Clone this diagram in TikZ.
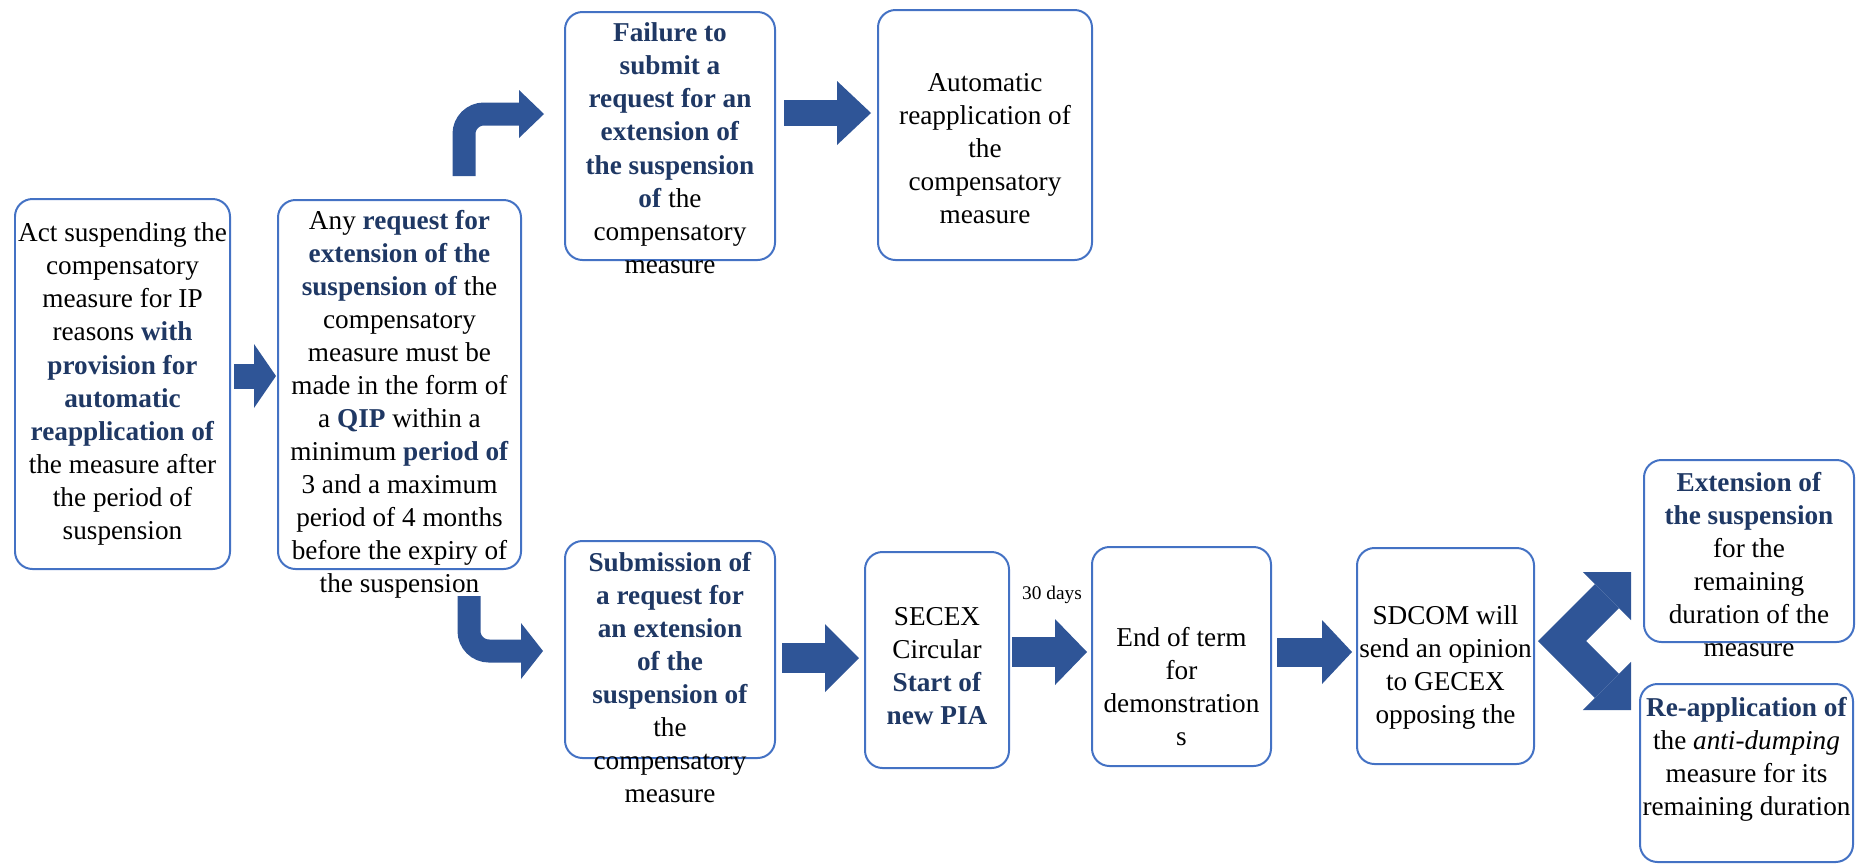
\documentclass[tikz,border=0pt]{standalone}
\usepackage{fontspec}
\setmainfont{Liberation Serif}
\usetikzlibrary{arrows.meta}

\definecolor{boxblue}{HTML}{4472C4}
\definecolor{arrblue}{HTML}{2F5597}
\definecolor{navy}{HTML}{1F3864}
\newlength{\pu}\setlength{\pu}{0.02cm}
\newcommand{\hl}[1]{\textcolor{navy}{\textbf{#1}}}
% width, height, top pad (all in px), text
\newcommand{\boxtxt}[4]{\parbox[c][#2\pu][t]{#1\pu}{\centering\fontsize{15.5pt}{18.8pt}\selectfont\vspace*{#3\pu}#4\par}}

\begin{document}
\begin{tikzpicture}[x=0.02cm,y=-0.02cm,
	box/.style={draw=boxblue,line width=0.04cm,rounded corners=0.35cm,inner sep=0pt},
	blockarr/.style n args={3}{draw=arrblue,line width=#1,-{Triangle[length=#2,width=#3,line width=0pt]}},
	bentarr/.style n args={3}{draw=arrblue,line width=#1,rounded corners=0.4cm,-{Triangle[length=#2,width=#3,line width=0pt]}},
	splitarr/.style={draw=arrblue,line width=0.68cm,line join=miter,
		arrows={Triangle[length=0.68cm,width=1.36cm,line width=0pt]-Triangle[length=0.68cm,width=1.36cm,line width=0pt]}}]
				\useasboundingbox (0,0) rectangle (1865,863);
				% boxes
				\node[box] (act) at (122.5,384) {\boxtxt{215}{370}{24}{Act suspending the\\compensatory\\measure for IP\\reasons \hl{with}\\\hl{provision for}\\\hl{automatic}\\\hl{reapplication of}\\the measure after\\the period of\\suspension}};
				\node[box] (req) at (399.5,384.5) {\boxtxt{243}{369}{10}{Any \hl{request for}\\\hl{extension of the}\\\hl{suspension of} the\\compensatory\\measure must be\\made in the form of\\a \hl{QIP} within a\\minimum \hl{period of}\\3 and a maximum\\period of 4 months\\before the expiry of\\the suspension}};
				\node[box] (fail) at (670,136) {\boxtxt{210}{248}{11}{\hl{Failure to}\\\hl{submit a}\\\hl{request for an}\\\hl{extension of}\\\hl{the suspension}\\\hl{of} the\\compensatory\\measure}};
				\node[box] (auto) at (985,135) {\boxtxt{214}{250}{63}{Automatic\\reapplication of\\the\\compensatory\\measure}};
				\node[box] (sub) at (670,649.5) {\boxtxt{210}{217}{11.5}{\hl{Submission of}\\\hl{a request for}\\\hl{an extension}\\\hl{of the}\\\hl{suspension of}\\the\\compensatory\\measure}};
				\node[box] (secex) at (937,660) {\boxtxt{144}{216}{55.5}{SECEX\\Circular\\\hl{Start of}\\\hl{new PIA}}};
				\node[box] (endterm) at (1181.5,656.5) {\boxtxt{179}{219}{80.5}{End of term\\for\\demonstration\\s}};
				\node[box] (sdcom) at (1445.5,656) {\boxtxt{177}{216}{57.5}{SDCOM will\\send an opinion\\to GECEX\\opposing the}};
				\node[box] (ext) at (1749,551) {\boxtxt{210}{182}{12.5}{\hl{Extension of}\\\hl{the suspension}\\for the\\remaining\\duration of the\\measure}};
				\node[box] (reapp) at (1746.5,773) {\boxtxt{213}{178}{13.5}{\hl{Re-application of}\\the \textit{anti-dumping}\\measure for its\\remaining duration}};
				\node[font=\fontsize{11pt}{13pt}\selectfont] (days) at (1052,595) {30 days};
				% arrows
				\draw[blockarr={0.5cm}{0.44cm}{1.28cm},shorten <=0.06cm,shorten >=0.02cm] (act.east |- 0,376) -- (req.west |- 0,376);
				\draw[bentarr={0.46cm}{0.5cm}{0.96cm},shorten <=0.46cm,shorten >=0.4cm] (req.north -| 464,0) |- (fail.west |- 0,114);
				\draw[bentarr={0.46cm}{0.44cm}{1.12cm},shorten <=0.52cm,shorten >=0.42cm] (req.south -| 469,0) |- (sub.west |- 0,651);
				\draw[blockarr={0.52cm}{0.68cm}{1.28cm},shorten <=0.16cm,shorten >=0.12cm] (fail.east |- 0,113) -- (auto.west |- 0,113);
				\draw[blockarr={0.6cm}{0.68cm}{1.36cm},shorten <=0.12cm,shorten >=0.1cm] (sub.east |- 0,658) -- (secex.west |- 0,658);
				\draw[blockarr={0.6cm}{0.64cm}{1.32cm},shorten <=0.04cm,shorten >=0.08cm] (secex.east |- 0,652) -- (endterm.west |- 0,652);
				\draw[blockarr={0.58cm}{0.6cm}{1.28cm},shorten <=0.1cm,shorten >=0.08cm] (endterm.east |- 0,652) -- (sdcom.west |- 0,652);
				\coordinate (split) at (1562,641);
				\coordinate (toext) at (1631,572);
				\coordinate (toreapp) at (1631,710);
				\draw[splitarr] (toext) -- (split) -- (toreapp);
\end{tikzpicture}
\end{document}
